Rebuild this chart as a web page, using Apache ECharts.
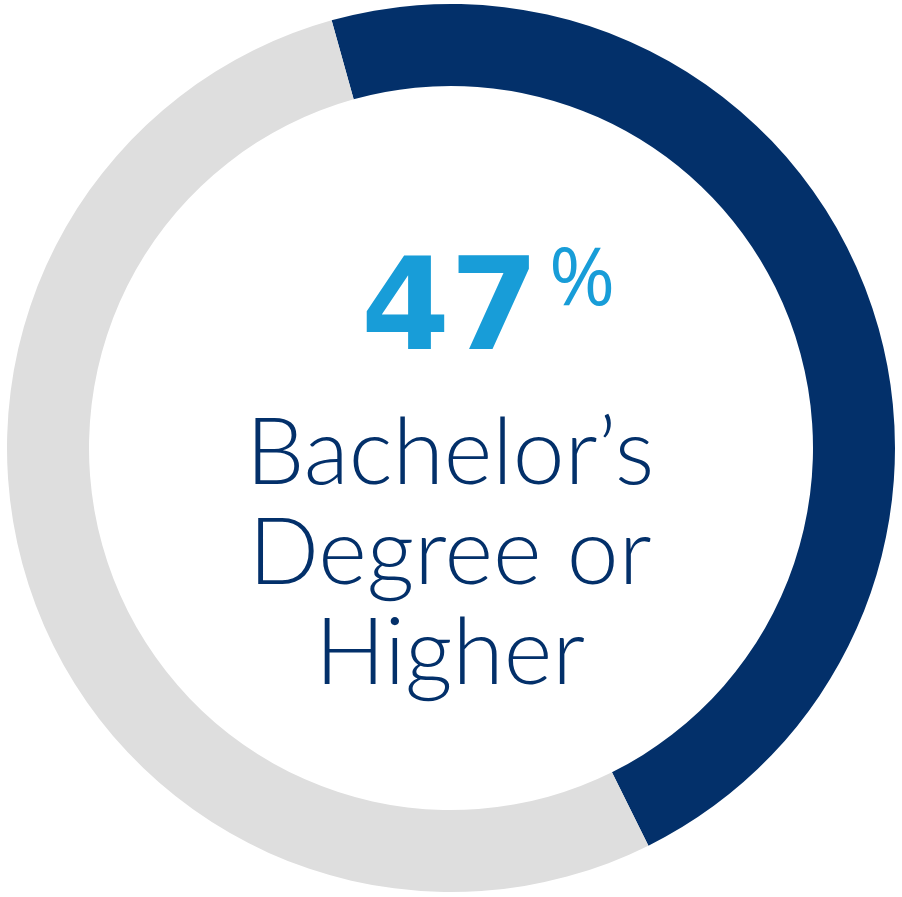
<!DOCTYPE html>
<html>
<head>
<meta charset="utf-8">
<script src="https://cdn.jsdelivr.net/npm/echarts@6/dist/echarts.min.js"></script>
<style>
  html, body { margin: 0; padding: 0; background: #fff; }
  #chart { width: 902px; height: 897px; }
</style>
</head>
<body>
<div id="chart"></div>
<script>
// 数据
const categories = ['Bachelor’s Degree or Higher', 'Other']
const values = [47, 53]
const colors = ['#03306a', '#dedede']
const bigNumber = '47'
const labelLines = ['Bachelor’s', 'Degree or', 'Higher']

const myChart = echarts.init(document.getElementById('chart'))

const option = {
  animation: false,
  series: [
    {
      type: 'pie',
      center: [451, 448],
      radius: [362, 444],
      startAngle: 105.6,
      clockwise: true,
      silent: true,
      label: { show: false },
      labelLine: { show: false },
      data: categories.map((name, i) => ({
        name: name,
        value: values[i],
        itemStyle: { color: colors[i] }
      }))
    }
  ],
  graphic: [
    {
      type: 'text',
      left: 361,
      top: 252,
      style: {
        text: bigNumber,
        fill: '#189dd8',
        font: 'bold 128px "DejaVu Sans", sans-serif'
      }
    },
    {
      type: 'text',
      left: 549,
      top: 242,
      style: {
        text: '%',
        fill: '#189dd8',
        font: '80px "Open Sans", sans-serif'
      }
    },
    {
      type: 'text',
      x: 450,
      y: 404,
      style: {
        text: labelLines.join('\n'),
        fill: '#03306a',
        align: 'center',
        verticalAlign: 'top',
        lineHeight: 100,
        font: '300 93px Lato, sans-serif'
      }
    }
  ]
}

myChart.setOption(option)
window.addEventListener('resize', () => myChart.resize())
</script>
</body>
</html>
